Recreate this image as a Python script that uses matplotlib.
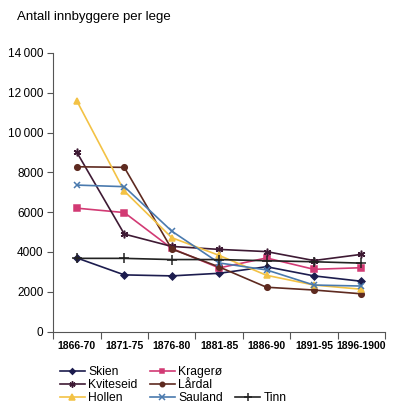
import matplotlib
matplotlib.use("Agg")
import matplotlib.pyplot as plt
from matplotlib.lines import Line2D

plt.rcParams['font.family'] = ['Liberation Sans', 'DejaVu Sans']

periods = ["1866-70", "1871-75", "1876-80", "1881-85", "1886-90", "1891-95", "1896-1900"]
skien = [3700, 2850, 2800, 2930, 3260, 2800, 2530]
kragero = [6200, 5980, 4180, 3200, 3700, 3130, 3210]
kviteseid = [9000, 4900, 4280, 4130, 4020, 3570, 3880]
lardal = [8280, 8250, 4150, 3250, 2230, 2090, 1900]
hollen = [11580, 7060, 4720, 3830, 2830, 2340, 2130]
sauland = [7360, 7280, 5050, 3450, 3100, 2340, 2290]
tinn = [3680, 3680, 3620, 3620, 3560, 3510, 3440]
yticks = [0, 2000, 4000, 6000, 8000, 10000, 12000, 14000]
ytick_labels = ["0", "2000", "4000", "6000", "8000", "10\u2009000", "12\u2009000", "14\u2009000"]

fig = plt.figure(figsize=(4.0, 4.13), dpi=100)
ax = fig.add_axes([0.133, 0.197, 0.8295, 0.675])

x = list(range(len(periods)))
series = [
    ("Skien", skien, "#1c1c4e", "D", 3.5),
    ("Kragerø", kragero, "#d23a74", "s", 4),
    ("Kviteseid", kviteseid, "#3e1a34", (6, 2, 0), 5.5),
    ("Lårdal", lardal, "#5e2a20", "o", 4),
    ("Hollen", hollen, "#f3c245", "^", 5),
    ("Sauland", sauland, "#4a7aae", "x", 5),
    ("Tinn", tinn, "#222222", "+", 7),
]
handles = {}
for name, vals, col, mk, ms in series:
    h, = ax.plot(x, vals, color=col, marker=mk, markersize=ms, linewidth=1.2,
                 markeredgewidth=1.1, label=name)
    handles[name] = h

ax.set_xlim(-0.5, 6.5)
ax.set_ylim(0, 14000)
ax.set_yticks(yticks)
ax.set_yticklabels(ytick_labels, fontsize=8.5)
ax.set_xticks([i + 0.5 for i in range(-1, 7)])
ax.set_xticklabels([])
ax.set_xticks(x, minor=True)
ax.set_xticklabels(periods, minor=True, fontsize=7.5, fontweight='bold')
ax.tick_params(axis='x', which='minor', length=0, pad=7)
ax.tick_params(axis='x', which='major', length=5, color='#555555', direction='out')
ax.tick_params(axis='y', length=4, color='#555555', direction='out', pad=3)
for s in ['top', 'right']:
    ax.spines[s].set_visible(False)
for s in ['left', 'bottom']:
    ax.spines[s].set_color('#555555')
    ax.spines[s].set_linewidth(0.8)

fig.text(0.0425, 0.958, "Antall innbyggere per lege", fontsize=9.5, va='center', ha='left')

blank = Line2D([], [], linestyle='none', marker=None)
order_h = [handles["Skien"], handles["Kviteseid"], handles["Hollen"],
           handles["Kragerø"], handles["Lårdal"], handles["Sauland"],
           blank, blank, handles["Tinn"]]
order_l = ["Skien", "Kviteseid", "Hollen", "Kragerø", "Lårdal", "Sauland", "", "", "Tinn"]
fig.legend(order_h, order_l, loc='upper left', bbox_to_anchor=(0.135, 0.128), ncol=3,
           frameon=False, fontsize=8.7, handlelength=2.05, handletextpad=0.3,
           columnspacing=1.0, labelspacing=0.08, borderpad=0, markerscale=0.8)

fig.savefig("out.png", dpi=100)
